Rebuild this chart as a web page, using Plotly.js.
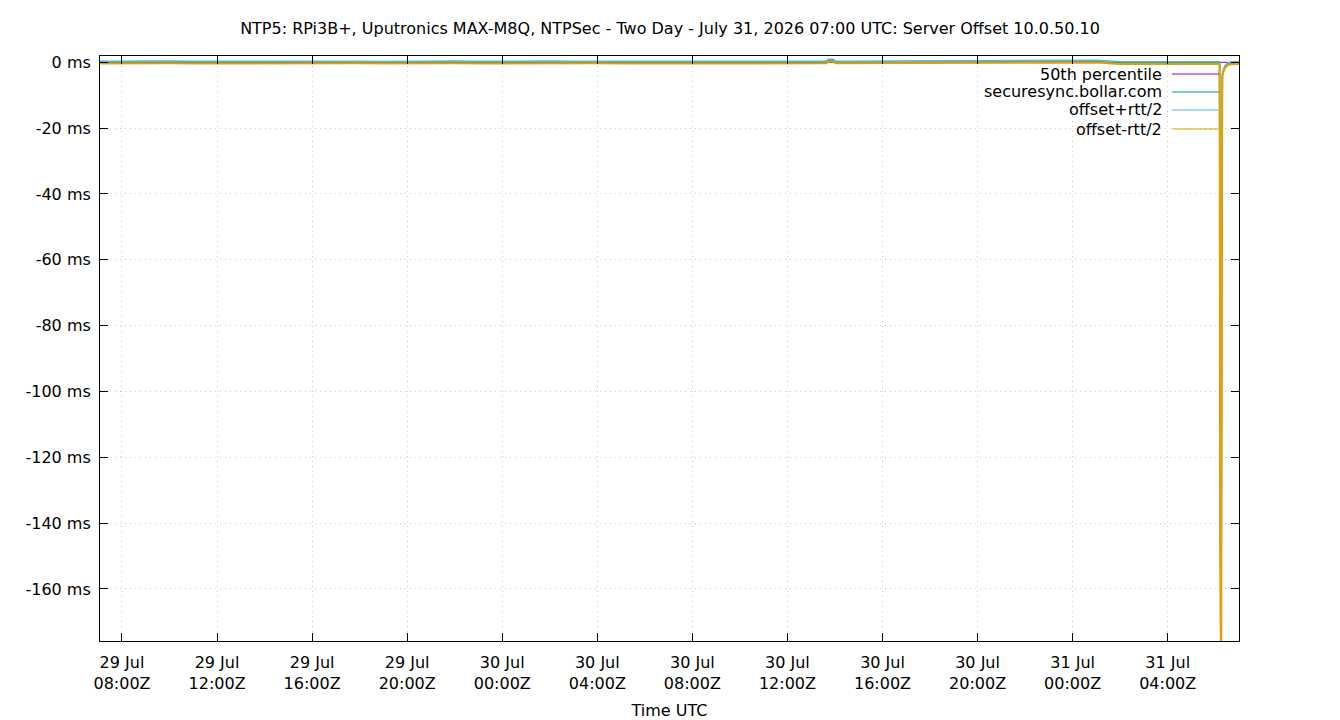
<!DOCTYPE html>
<html>
<head>
<meta charset="utf-8">
<script src="https://cdn.plot.ly/plotly-3.0.1.min.js"></script>
<style>html,body{margin:0;padding:0;background:#fff;}#chart{width:1340px;height:720px;}</style>
</head>
<body>
<div id="chart"></div>
<script>
// ---- data (ms) ----
const times = [
  "2026-07-29 07:05","2026-07-29 08:00","2026-07-29 09:00","2026-07-29 10:00","2026-07-29 11:00","2026-07-29 12:00",
  "2026-07-29 13:00","2026-07-29 14:00","2026-07-29 15:00","2026-07-29 16:00","2026-07-29 17:00","2026-07-29 18:00",
  "2026-07-29 19:00","2026-07-29 20:00","2026-07-29 21:00","2026-07-29 22:00","2026-07-29 23:00",
  "2026-07-30 00:00","2026-07-30 01:00","2026-07-30 02:00","2026-07-30 03:00","2026-07-30 04:00","2026-07-30 05:00",
  "2026-07-30 06:00","2026-07-30 07:00","2026-07-30 08:00","2026-07-30 09:00","2026-07-30 10:00","2026-07-30 11:00",
  "2026-07-30 12:00","2026-07-30 13:00","2026-07-30 13:38","2026-07-30 13:43","2026-07-30 13:56","2026-07-30 14:01",
  "2026-07-30 15:00","2026-07-30 16:00","2026-07-30 17:00","2026-07-30 18:00","2026-07-30 19:00","2026-07-30 20:00",
  "2026-07-30 21:00","2026-07-30 22:00","2026-07-30 23:00",
  "2026-07-31 00:00","2026-07-31 01:00","2026-07-31 02:00","2026-07-31 03:00","2026-07-31 04:00","2026-07-31 05:00",
  "2026-07-31 06:00","2026-07-31 06:11","2026-07-31 06:13","2026-07-31 06:15","2026-07-31 06:17","2026-07-31 06:18",
  "2026-07-31 06:21","2026-07-31 06:25","2026-07-31 06:31","2026-07-31 06:40","2026-07-31 06:52","2026-07-31 07:00"
];
const securesync = [
  -0.05, 0.02, -0.08, 0.04, -0.03, 0.01, -0.06, 0.03, -0.02, 0.05, -0.04, 0.00, -0.07, 0.02, -0.01, 0.04, -0.05,
  0.01, -0.03, 0.02, -0.06, 0.03, -0.02, 0.00, -0.04, 0.02, -0.01, 0.03, -0.05, 0.01, -0.02, 0.00, 0.55, 0.58, 0.01,
  0.02, -0.04, 0.01, -0.02, 0.03, -0.05, 0.02, -0.01, 0.04,
  0.05, 0.25, -0.20, -0.25, -0.20, -0.22, -0.20, -0.18, -150, -164, -30, -3.9, -2.4, -1.3, -0.6, -0.3, -0.2, -0.2
];
const offsetPlus = [
  0.28, 0.35, 0.25, 0.38, 0.30, 0.33, 0.27, 0.36, 0.31, 0.39, 0.29, 0.34, 0.26, 0.35, 0.32, 0.37, 0.28,
  0.34, 0.30, 0.36, 0.27, 0.37, 0.31, 0.33, 0.29, 0.36, 0.32, 0.37, 0.28, 0.34, 0.31, 0.33, 0.88, 0.90, 0.34,
  0.36, 0.29, 0.35, 0.31, 0.37, 0.28, 0.35, 0.32, 0.38,
  0.38, 0.58, 0.12, 0.08, 0.13, 0.10, 0.12, 0.15, -140, -158, -25, -3.5, -2.0, -0.9, -0.3, 0.05, 0.12, 0.13
];
const offsetMinus = [
  -0.38, -0.31, -0.42, -0.29, -0.36, -0.33, -0.40, -0.30, -0.35, -0.28, -0.39, -0.34, -0.41, -0.31, -0.34, -0.30, -0.38,
  -0.33, -0.37, -0.31, -0.40, -0.30, -0.36, -0.34, -0.38, -0.31, -0.35, -0.30, -0.39, -0.33, -0.36, -0.34, 0.22, 0.25, -0.33,
  -0.31, -0.38, -0.32, -0.35, -0.30, -0.39, -0.31, -0.34, -0.29,
  -0.28, -0.08, -0.52, -0.58, -0.53, -0.55, -0.52, -0.50, -160, -190, -35, -4.3, -2.8, -1.7, -0.9, -0.62, -0.52, -0.52
];
const p50Times = ["2026-07-29 07:05", "2026-07-31 07:00"];
const p50Values = [-0.02, -0.02];

const seriesNames = ["50th percentile", "securesync.bollar.com", "offset+rtt/2", "offset-rtt/2"];
const seriesColors = ["#9400d3", "#009e73", "#56b4e9", "#e69f00"];

const xTickVals = ["2026-07-29 08:00","2026-07-29 12:00","2026-07-29 16:00","2026-07-29 20:00",
  "2026-07-30 00:00","2026-07-30 04:00","2026-07-30 08:00","2026-07-30 12:00","2026-07-30 16:00","2026-07-30 20:00",
  "2026-07-31 00:00","2026-07-31 04:00"];
const xTickText = ["29 Jul<br>08:00Z","29 Jul<br>12:00Z","29 Jul<br>16:00Z","29 Jul<br>20:00Z",
  "30 Jul<br>00:00Z","30 Jul<br>04:00Z","30 Jul<br>08:00Z","30 Jul<br>12:00Z","30 Jul<br>16:00Z","30 Jul<br>20:00Z",
  "31 Jul<br>00:00Z","31 Jul<br>04:00Z"];
const yTickVals = [0, -20, -40, -60, -80, -100, -120, -140, -160];
const yTickText = ["0 ms","-20 ms","-40 ms","-60 ms","-80 ms","-100 ms","-120 ms","-140 ms","-160 ms"];

const FONT = "DejaVu Sans, sans-serif";

const traces = [
  {x: p50Times, y: p50Values, name: seriesNames[0], mode: "lines", line: {color: seriesColors[0], width: 1}},
  {x: times, y: securesync, name: seriesNames[1], mode: "lines", line: {color: seriesColors[1], width: 1.5}},
  {x: times, y: offsetPlus, name: seriesNames[2], mode: "lines", line: {color: seriesColors[2], width: 1.5}},
  {x: times, y: offsetMinus, name: seriesNames[3], mode: "lines", line: {color: seriesColors[3], width: 2}}
];

// legend drawn gnuplot-style (text right-aligned, sample to the right)
const legRows = [0.9692, 0.9385, 0.9077, 0.8752];
const annotations = seriesNames.map((n, i) => ({
  text: n, xref: "paper", yref: "paper", x: 0.9342, y: legRows[i],
  xanchor: "right", yanchor: "middle", showarrow: false,
  font: {family: FONT, size: 16, color: "#000"}
}));
const shapes = [
  {type: "rect", xref: "paper", yref: "paper", x0: 0.745, x1: 0.9815, y0: 0.86, y1: 0.984,
   fillcolor: "#ffffff", line: {width: 0}, layer: "between"}
].concat(seriesColors.map((c, i) => ({
  type: "line", xref: "paper", yref: "paper", x0: 0.9412, x1: 0.9824, y0: legRows[i], y1: legRows[i],
  line: {color: c, width: 1}
})));

const layout = {
  width: 1340, height: 720,
  margin: {l: 100, r: 101, t: 56, b: 79, pad: 0},
  paper_bgcolor: "#fff", plot_bgcolor: "#fff",
  font: {family: FONT, size: 16, color: "#000"},
  showlegend: false,
  title: {text: "NTP5: RPi3B+, Uputronics MAX-M8Q, NTPSec - Two Day - July 31, 2026 07:00 UTC: Server Offset 10.0.50.10",
    x: 0.5, xref: "container", y: 0.96, yref: "container", yanchor: "middle",
    font: {family: FONT, size: 16, color: "#000"}},
  xaxis: {
    type: "date", range: ["2026-07-29 07:04:30", "2026-07-31 07:00"],
    tickmode: "array", tickvals: xTickVals, ticktext: xTickText,
    ticks: "inside", ticklen: 8, tickcolor: "#000", tickwidth: 1,
    showline: true, linecolor: "#000", linewidth: 1, mirror: "ticks",
    showgrid: true, gridcolor: "#c8c8c8", griddash: "1px,4px", gridwidth: 1,
    zeroline: false, tickfont: {family: FONT, size: 16, color: "#000"},
    ticklabelstandoff: 7,
    title: {text: "Time UTC", font: {family: FONT, size: 16, color: "#000"}, standoff: 14},
    automargin: false
  },
  yaxis: {
    range: [-175.8, 1.9],
    tickmode: "array", tickvals: yTickVals, ticktext: yTickText,
    ticks: "inside", ticklen: 8, tickcolor: "#000", tickwidth: 1,
    showline: true, linecolor: "#000", linewidth: 1, mirror: "ticks",
    showgrid: true, gridcolor: "#c8c8c8", griddash: "1px,4px", gridwidth: 1,
    zeroline: false, tickfont: {family: FONT, size: 16, color: "#000"},
    ticklabelstandoff: 5,
    automargin: false
  },
  annotations: annotations,
  shapes: shapes
};

Plotly.newPlot("chart", traces, layout, {displayModeBar: false, staticPlot: true});
</script>
</body>
</html>
